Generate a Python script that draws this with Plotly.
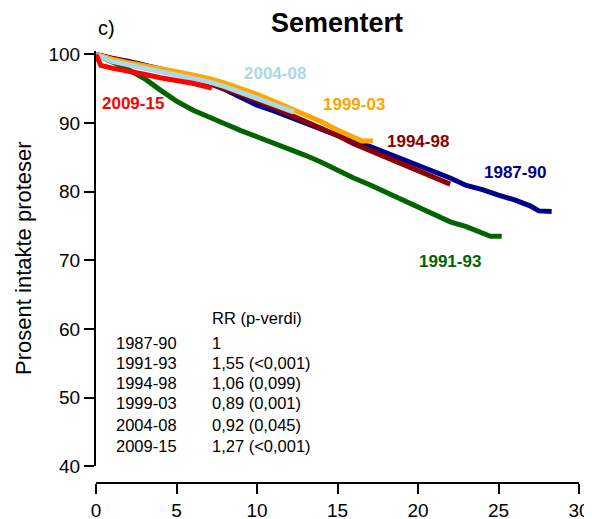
import plotly.graph_objects as go

# ---- data ----
periods = ["1987-90", "1991-93", "1994-98", "1999-03", "2004-08", "2009-15"]
colors = ["#00008B", "#006400", "#8B0000", "#FFA500", "#ADD8E6", "#FF0000"]

x_8790 = [0, 0.5, 1, 2, 3, 4, 5, 6, 7, 8, 9, 10, 11, 12, 13, 14, 15, 16, 17, 18, 19, 20, 21, 22, 23, 24, 25, 26, 27, 27.5, 28.3]
y_8790 = [100, 99.7, 99.4, 99.0, 98.5, 97.9, 97.3, 96.6, 95.8, 94.9, 93.8, 92.6, 91.8, 90.9, 90.0, 89.1, 88.2, 87.3, 86.6, 85.7, 84.8, 83.8, 82.9, 82.0, 80.9, 80.3, 79.5, 78.8, 77.9, 77.2, 77.1]

x_9193 = [0, 0.5, 1, 1.5, 2, 2.5, 3, 4, 5, 6, 7, 8, 9, 10, 11, 12, 13, 14, 15, 16, 17, 18, 19, 20, 21, 22, 23, 24, 24.5, 25.2]
y_9193 = [100, 99.5, 99.0, 98.4, 97.8, 97.2, 96.5, 94.8, 93.2, 91.9, 90.8, 89.9, 88.9, 88.0, 87.1, 86.3, 85.3, 84.3, 83.1, 82.0, 81.0, 79.9, 78.8, 77.6, 76.7, 75.6, 74.9, 74.0, 73.5, 73.5]

x_9498 = [0, 1, 2, 3, 4, 5, 6, 7, 8, 9, 10, 11, 12, 13, 14, 15, 16, 17, 18, 19, 20, 21, 21.5, 22]
y_9498 = [100, 99.4, 98.9, 98.4, 97.8, 97.2, 96.5, 95.8, 95.0, 94.2, 93.3, 92.3, 91.3, 90.3, 89.3, 88.2, 87.0, 86.0, 85.0, 84.0, 83.0, 82.0, 81.5, 81.1]

x_9903 = [0, 1, 2, 3, 4, 5, 6, 7, 8, 9, 10, 11, 12, 13, 14, 15, 16, 16.5, 17.2]
y_9903 = [100, 99.3, 98.8, 98.4, 97.9, 97.5, 97.0, 96.5, 95.8, 95.0, 94.2, 93.2, 92.2, 91.2, 90.2, 89.0, 87.9, 87.4, 87.4]

x_0408 = [0, 1, 2, 3, 4, 5, 6, 7, 8, 9, 10, 11, 12, 12.3]
y_0408 = [100, 99.0, 98.5, 98.0, 97.6, 97.1, 96.6, 96.0, 95.3, 94.5, 93.6, 92.7, 91.8, 91.6]

x_0915 = [0, 0.2, 0.3, 1, 2, 3, 4, 5, 6, 7, 7.2]
y_0915 = [100, 99.0, 98.4, 98.0, 97.6, 97.1, 96.6, 96.2, 95.8, 95.2, 95.1]

rr_values = ["1", "1,55 (<0,001)", "1,06 (0,099)", "0,89 (0,001)", "0,92 (0,045)", "1,27 (<0,001)"]
x_ticks = [0, 5, 10, 15, 20, 25, 30]
y_ticks = [40, 50, 60, 70, 80, 90, 100]

series = [(x_8790, y_8790), (x_9193, y_9193), (x_9498, y_9498),
          (x_9903, y_9903), (x_0408, y_0408), (x_0915, y_0915)]

FONT = "Liberation Sans, Arial, Helvetica, sans-serif"

fig = go.Figure()
for name, col, (xs, ys) in zip(periods, colors, series):
    fig.add_trace(go.Scatter(x=xs, y=ys, mode="lines", name=name,
                             line=dict(color=col, width=5), showlegend=False,
                             hoverinfo="skip"))

# curve labels (bold, coloured)
label_pos = {"2004-08": (11.1, 97.2), "2009-15": (2.28, 92.85), "1999-03": (16.0, 92.7),
             "1994-98": (20.02, 87.35), "1987-90": (26.0, 82.75), "1991-93": (21.97, 69.85)}
for name, col in zip(periods, colors):
    lx, ly = label_pos[name]
    fig.add_annotation(x=lx, y=ly, xref="x", yref="y", text="<b>%s</b>" % name,
                       showarrow=False, font=dict(family=FONT, size=17, color=col),
                       xanchor="center", yanchor="middle")

# RR table
fig.add_annotation(x=7.1, y=61.6, xref="x", yref="y", text="RR (p-verdi)", showarrow=False,
                   font=dict(family=FONT, size=16.5, color="black"), xanchor="left", yanchor="middle")
row_y = [57.9, 55.0, 52.1, 49.15, 46.0, 43.0]
for name, val, ry in zip(periods, rr_values, row_y):
    fig.add_annotation(x=1.12, y=ry, xref="x", yref="y", text=name, showarrow=False,
                       font=dict(family=FONT, size=16.5, color="black"), xanchor="left", yanchor="middle")
    fig.add_annotation(x=7.1, y=ry, xref="x", yref="y", text=val, showarrow=False,
                       font=dict(family=FONT, size=16.5, color="black"), xanchor="left", yanchor="middle")

# title, panel letter, y-axis title
fig.add_annotation(x=0.499, y=1.064, xref="paper", yref="paper", text="<b>Sementert</b>",
                   showarrow=False, font=dict(family=FONT, size=27, color="black"),
                   xanchor="center", yanchor="middle")
fig.add_annotation(x=0.021, y=1.054, xref="paper", yref="paper", text="c)",
                   showarrow=False, font=dict(family=FONT, size=20, color="black"),
                   xanchor="center", yanchor="middle")
fig.add_annotation(x=0, y=0.521, xref="paper", yref="paper", text="Prosent intakte proteser",
                   textangle=-90, showarrow=False, xshift=-72,
                   font=dict(family=FONT, size=22, color="black"),
                   xanchor="center", yanchor="middle")

# page body has an 8px margin, so the figure is sized to fill the rest of the window
fig.update_layout(
    width=584, height=511,
    margin=dict(l=88, r=13, t=43, b=36, pad=0, autoexpand=False),
    paper_bgcolor="white", plot_bgcolor="white",
    font=dict(family=FONT, color="black"),
    xaxis=dict(range=[0, 30], tickvals=x_ticks, ticks="outside", ticklen=10, tickwidth=2,
               tickcolor="black", showline=True, linewidth=2, linecolor="black",
               showgrid=False, zeroline=False, anchor="free", position=0, automargin=False,
               tickfont=dict(family=FONT, size=19, color="black"), ticklabelstandoff=0),
    yaxis=dict(range=[40, 100.5], tickvals=y_ticks, ticks="outside", ticklen=10, tickwidth=2,
               tickcolor="black", showline=True, linewidth=2, linecolor="black",
               showgrid=False, zeroline=False, domain=[0.039, 1], automargin=False,
               tickfont=dict(family=FONT, size=19, color="black")),
)

fig.write_html("out.html")
